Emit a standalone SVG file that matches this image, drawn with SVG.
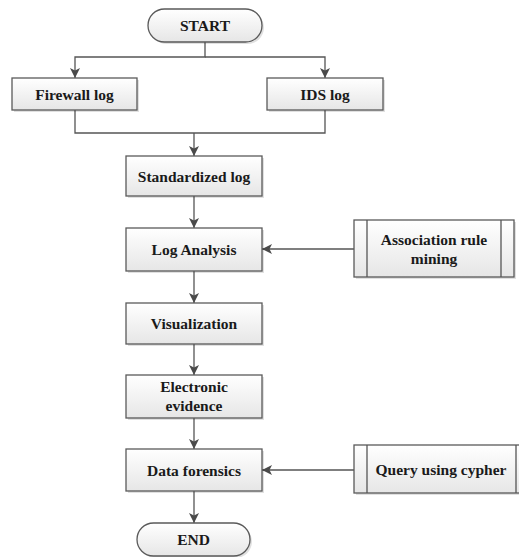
<svg xmlns="http://www.w3.org/2000/svg" width="519" height="557" viewBox="0 0 519 557">
<defs>
<linearGradient id="g" x1="0" y1="0" x2="0" y2="1">
<stop offset="0" stop-color="#ffffff"/>
<stop offset="1" stop-color="#e6e6e6"/>
</linearGradient>
<marker id="ah" markerWidth="10" markerHeight="10" viewBox="0 0 10 10" refX="10" refY="5" orient="auto" markerUnits="userSpaceOnUse">
<path d="M0,0 L10,5 L0,10 L2.5,5 Z" fill="#4a4a4a"/>
</marker>
</defs>
<style>
.ln{fill:none;stroke:#555;stroke-width:1.3}
.sh{fill:#000;fill-opacity:0.12}
.box{fill:url(#g);stroke:#5a5a5a;stroke-width:1.3}
.t{font-family:'Liberation Serif','Times New Roman',serif;font-weight:bold;font-size:15.5px;fill:#1a1a1a;text-anchor:middle}
</style>
<rect width="519" height="557" fill="#ffffff"/>
<g id="connectors">
<path class="ln" d="M205,42 V57 H75 V78" marker-end="url(#ah)"/>
<path class="ln" d="M205,57 H325 V78" marker-end="url(#ah)"/>
<path class="ln" d="M75,110 V133 H325 V110"/>
<path class="ln" d="M194,133 V156" marker-end="url(#ah)"/>
<path class="ln" d="M194,196 V228" marker-end="url(#ah)"/>
<path class="ln" d="M354,249 H262" marker-end="url(#ah)"/>
<path class="ln" d="M194,271 V303" marker-end="url(#ah)"/>
<path class="ln" d="M194,344 V375" marker-end="url(#ah)"/>
<path class="ln" d="M194,418 V449" marker-end="url(#ah)"/>
<path class="ln" d="M354,470 H262" marker-end="url(#ah)"/>
<path class="ln" d="M194,491 V523" marker-end="url(#ah)"/>
</g>
<g id="start">
<rect class="sh" x="150" y="11" width="114" height="33" rx="16.5"/>
<rect class="box" x="148" y="9" width="114" height="33" rx="16.5"/>
<text class="t" font-family="Liberation Serif" x="205" y="31">START</text>
</g>
<g id="firewall">
<rect class="sh" x="14" y="80" width="125" height="32"/>
<rect class="box" x="12" y="78" width="125" height="32"/>
<text class="t" font-family="Liberation Serif" x="74.5" y="99.5">Firewall log</text>
</g>
<g id="ids">
<rect class="sh" x="269" y="80" width="116" height="32"/>
<rect class="box" x="267" y="78" width="116" height="32"/>
<text class="t" font-family="Liberation Serif" x="325" y="99.5">IDS log</text>
</g>
<g id="standardized">
<rect class="sh" x="128" y="158" width="136" height="40"/>
<rect class="box" x="126" y="156" width="136" height="40"/>
<text class="t" font-family="Liberation Serif" x="194" y="181.5">Standardized log</text>
</g>
<g id="analysis">
<rect class="sh" x="128" y="230" width="136" height="43"/>
<rect class="box" x="126" y="228" width="136" height="43"/>
<text class="t" font-family="Liberation Serif" x="194" y="254.5">Log Analysis</text>
</g>
<g id="association">
<rect class="sh" x="356" y="222" width="160" height="57"/>
<rect class="box" x="354" y="220" width="160" height="57"/>
<line class="ln" x1="367" y1="220" x2="367" y2="277"/>
<line class="ln" x1="501" y1="220" x2="501" y2="277"/>
<text class="t" font-family="Liberation Serif" x="434" y="245">Association rule</text>
<text class="t" font-family="Liberation Serif" x="434" y="264">mining</text>
</g>
<g id="visualization">
<rect class="sh" x="128" y="305" width="136" height="41"/>
<rect class="box" x="126" y="303" width="136" height="41"/>
<text class="t" font-family="Liberation Serif" x="194" y="329">Visualization</text>
</g>
<g id="evidence">
<rect class="sh" x="128" y="377" width="136" height="43"/>
<rect class="box" x="126" y="375" width="136" height="43"/>
<text class="t" font-family="Liberation Serif" x="194" y="392">Electronic</text>
<text class="t" font-family="Liberation Serif" x="194" y="411">evidence</text>
</g>
<g id="forensics">
<rect class="sh" x="128" y="451" width="136" height="42"/>
<rect class="box" x="126" y="449" width="136" height="42"/>
<text class="t" font-family="Liberation Serif" x="194" y="475.5">Data forensics</text>
</g>
<g id="query">
<rect class="sh" x="356" y="447" width="176" height="48"/>
<rect class="box" x="354" y="445" width="176" height="48"/>
<line class="ln" x1="367" y1="445" x2="367" y2="493"/>
<line class="ln" x1="516" y1="445" x2="516" y2="493"/>
<text class="t" font-family="Liberation Serif" x="441" y="474.5">Query using cypher</text>
</g>
<g id="end">
<rect class="sh" x="139" y="525" width="113" height="33" rx="16.5"/>
<rect class="box" x="137" y="523" width="113" height="33" rx="16.5"/>
<text class="t" font-family="Liberation Serif" x="193.5" y="545">END</text>
</g>
</svg>
